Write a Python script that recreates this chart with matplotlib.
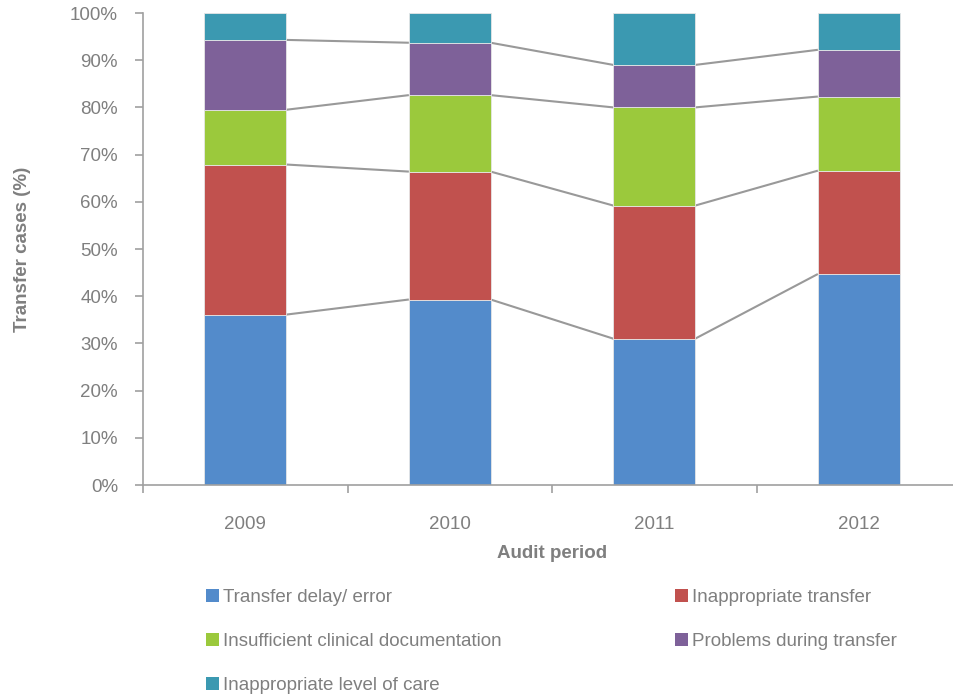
import matplotlib
matplotlib.use("Agg")
import matplotlib.pyplot as plt
import numpy as np
from matplotlib.patches import Patch

plt.rcParams['font.family'] = ['Liberation Sans', 'DejaVu Sans']

years = ["2009", "2010", "2011", "2012"]
series_names = [
    "Transfer delay/ error",
    "Inappropriate transfer",
    "Insufficient clinical documentation",
    "Problems during transfer",
    "Inappropriate level of care",
]
transfer_delay = [36.1, 39.3, 31.0, 44.7]
inappropriate_transfer = [31.8, 27.1, 28.2, 21.9]
insufficient_docs = [11.6, 16.2, 20.8, 15.7]
problems_during = [14.8, 11.1, 9.0, 9.9]
inappropriate_level = [5.7, 6.3, 11.0, 7.8]

colors = ["#538BCB", "#C1514E", "#9BC93C", "#7E6199", "#3B99B1"]
grey_text = "#7F7F7F"
axis_grey = "#A0A0A0"
fs = 13.5

data = [transfer_delay, inappropriate_transfer, insufficient_docs,
        problems_during, inappropriate_level]

fig = plt.figure(figsize=(9.54, 6.94), dpi=100)
ax = fig.add_axes([143 / 954, 209 / 694, 818 / 954, 472 / 694])

x = np.arange(len(years))
bar_w = 0.4
bottom = np.zeros(len(years))
cum_tops = []
for vals, col in zip(data, colors):
    vals = np.array(vals)
    ax.bar(x, vals, bar_w, bottom=bottom, color=col,
           edgecolor="#E6E6E6", linewidth=0.6, zorder=2)
    bottom = bottom + vals
    cum_tops.append(bottom.copy())

# series lines joining segment tops between neighbouring bars
for tops in cum_tops[:-1]:
    for i in range(len(years) - 1):
        ax.plot([x[i] + bar_w / 2, x[i + 1] - bar_w / 2],
                [tops[i], tops[i + 1]], color="#999999", lw=1.5,
                zorder=1, solid_capstyle="butt")

ax.set_xlim(-0.5, len(years) - 0.5)
ax.set_ylim(0, 100)

ax.set_yticks(np.arange(0, 101, 10))
ax.set_yticklabels([f"{v}%" for v in range(0, 101, 10)])
ax.set_xticks(np.arange(-0.5, len(years), 1.0))
ax.set_xticklabels([])
ax.set_xticks(x, minor=True)
ax.set_xticklabels(years, minor=True)
ax.tick_params(axis="x", which="minor", length=0, pad=22,
               labelsize=fs, labelcolor=grey_text)
ax.tick_params(axis="x", which="major", length=6, width=1.2,
               color=axis_grey, direction="out")
ax.tick_params(axis="y", length=6, width=1.2, color=axis_grey,
               labelsize=fs, labelcolor=grey_text, pad=12)

for side in ["top", "right"]:
    ax.spines[side].set_visible(False)
for side in ["left", "bottom"]:
    ax.spines[side].set_color(axis_grey)
    ax.spines[side].set_linewidth(1.2)

ax.set_xlabel("Audit period", fontsize=fs, fontweight="bold",
              color=grey_text, labelpad=9)
ax.set_ylabel("Transfer cases (%)", fontsize=fs, fontweight="bold",
              color=grey_text)
ax.yaxis.set_label_coords((31 - 143) / 818, 0.5)

handles = [Patch(facecolor=c, edgecolor="none") for c in colors]
leg_kw = dict(frameon=False, fontsize=fs, handlelength=0.7,
              handleheight=0.7, handletextpad=0.2, labelspacing=1.42,
              labelcolor=grey_text, borderaxespad=0, borderpad=0)
left_idx = [0, 2, 4]
right_idx = [1, 3]
top = 1 - 589 / 694
leg1 = fig.legend([handles[i] for i in left_idx],
                  [series_names[i] for i in left_idx],
                  loc="upper left", bbox_to_anchor=(206 / 954, top),
                  **leg_kw)
leg2 = fig.legend([handles[i] for i in right_idx],
                  [series_names[i] for i in right_idx],
                  loc="upper left", bbox_to_anchor=(675 / 954, top),
                  **leg_kw)

fig.savefig("out.png", dpi=100)
